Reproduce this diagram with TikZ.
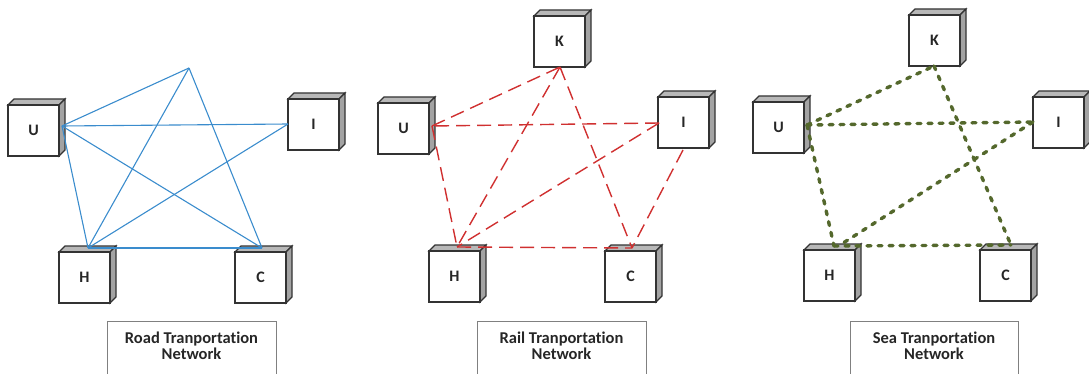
\documentclass[tikz,border=0pt]{standalone}
\usepackage{fontspec}
\setmainfont{Carlito}[Ligatures=NoCommon]
\begin{document}
\begin{tikzpicture}[x=1pt,y=-1pt,
  boxline/.style={draw=black!80,line width=1.2pt},
  front/.style={boxline,fill=white,minimum width=51pt,minimum height=51pt,inner sep=0pt,
     font=\fontsize{16}{18}\selectfont\bfseries,text=black!85},
  topface/.style={boxline,fill=black!28},
  sideface/.style={boxline,fill=black!36},
  road/.style={draw={rgb,255:red,58;green,140;blue,205},line width=1.1pt},
  rail/.style={draw={rgb,255:red,208;green,48;blue,48},line width=1.4pt,dash pattern=on 14pt off 7pt},
  sea/.style={draw={rgb,255:red,84;green,104;blue,44},line width=3.4pt,line cap=round,dash pattern=on 4pt off 7pt},
  caption/.style={draw=black!50,line width=1pt},
  captext/.style={font=\fontsize{16.5}{16.5}\selectfont\bfseries,text=black!85,align=center}]
\useasboundingbox (0,0) rectangle (1089,374);
\newcommand\cubebox[4]{%
  \filldraw[topface] ({#2},{#3}) -- ({#2+6},{#3-6}) -- ({#2+57},{#3-6}) -- ({#2+51},{#3}) -- cycle;
  \filldraw[sideface] ({#2+51},{#3}) -- ({#2+57},{#3-6}) -- ({#2+57},{#3+45}) -- ({#2+51},{#3+51}) -- cycle;
  \node[front] (#1) at ({#2+25.5},{#3+25.5}) {#4};}
% ---------------- Road ----------------
\cubebox{rU}{8}{105}{U}
\cubebox{rI}{288}{99}{I}
\cubebox{rH}{59}{252}{H}
\cubebox{rC}{235}{252}{C}
\coordinate (ra) at (189,68);
\coordinate (ru) at (62,126);
\coordinate (ri) at (288,124);
\coordinate (rh) at (88,248);
\coordinate (rc) at (262,248);
\draw[road] (ra) -- (ru);
\draw[road] (ra) -- (rh);
\draw[road] (ra) -- (rc);
\draw[road] (ru) -- (ri);
\draw[road] (ru) -- (rh);
\draw[road] (ru) -- (rc);
\draw[road] (rh) -- (ri);
\draw[road] (rh) -- (rc);
% ---------------- Rail ----------------
\cubebox{lK}{534}{16}{K}
\cubebox{lU}{378}{103}{U}
\cubebox{lI}{658}{97}{I}
\cubebox{lH}{429}{251}{H}
\cubebox{lC}{605}{251}{C}
\coordinate (lu) at (432,126);
\coordinate (lk) at (560,67);
\coordinate (li) at (659,123);
\coordinate (lib) at (683,150);
\coordinate (lh) at (457,247);
\coordinate (lc) at (632,248);
\draw[rail] (lu) -- (lk);
\draw[rail] (li) -- (lu);
\draw[rail] (lu) -- (lh);
\draw[rail] (lk) -- (lh);
\draw[rail] (lk) -- (lc);
\draw[rail] (li) -- (lh);
\draw[rail] (lib) -- (lc);
\draw[rail] (lh) -- (lc);
% ---------------- Sea ----------------
\cubebox{sK}{909}{15}{K}
\cubebox{sU}{753}{102}{U}
\cubebox{sI}{1033}{97}{I}
\cubebox{sH}{804}{250}{H}
\cubebox{sC}{980}{250}{C}
\coordinate (su) at (807,125);
\coordinate (sk) at (934,66);
\coordinate (si) at (1033,122);
\coordinate (sh) at (834,246);
\coordinate (sh2) at (840,245);
\coordinate (sc) at (1011,245);
\draw[sea] (su) -- (sk);
\draw[sea] (su) -- (si);
\draw[sea] (su) -- (sh);
\draw[sea] (sk) -- (sc);
\draw[sea] (si) -- (sh2);
\draw[sea] (sh) -- (sc);
% ---------------- Captions ----------------
\draw[caption] (107,380) -- (107,321) -- (276,321) -- (276,380);
\node[captext] (capR) at (191.5,346) {Road Tranportation\\Network};
\draw[caption] (477,380) -- (477,321) -- (646,321) -- (646,380);
\node[captext] (capL) at (561.5,346) {Rail Tranportation\\Network};
\draw[caption] (850,380) -- (850,321) -- (1018,321) -- (1018,380);
\node[captext] (capS) at (934,346) {Sea Tranportation\\Network};
\end{tikzpicture}
\end{document}
